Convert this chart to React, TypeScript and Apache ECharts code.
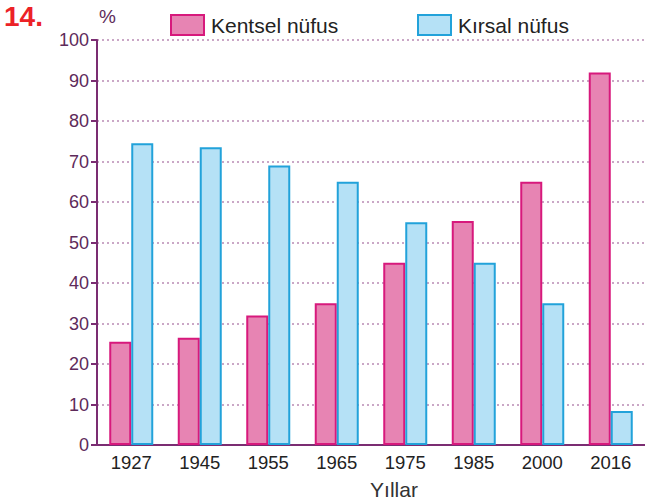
import React, { useEffect, useRef } from "react";
import * as echarts from "echarts";

const categories = ["1927", "1945", "1955", "1965", "1975", "1985", "2000", "2016"];
const kentsel = [25.5, 26.5, 32, 35, 45, 55.3, 65, 92];
const kirsal = [74.5, 73.5, 69, 65, 55, 45, 35, 8.4];
const yTicks = { min: 0, max: 100, interval: 10 };

const FONT = "Liberation Sans, Arial, sans-serif";
const PURPLE = "#7b2d72";

export default function App() {
  const ref = useRef<HTMLDivElement>(null);
  useEffect(() => {
    if (!ref.current) return;
    const chart = echarts.init(ref.current, null, { renderer: "svg" });
    const legendCommon = {
      top: 14,
      padding: 0,
      icon: "rect",
      itemWidth: 33,
      itemHeight: 20,
      itemGap: 8,
      textStyle: { fontSize: 21, color: "#222", fontFamily: FONT, padding: [0, 0, 0, 2] },
    };
    chart.setOption({
      animation: false,
      backgroundColor: "#ffffff",
      textStyle: { fontFamily: FONT },
      grid: { left: 97, top: 40, width: 560, height: 405, containLabel: false },
      legend: [
        { ...legendCommon, data: ["Kentsel nüfus"], left: 170 },
        { ...legendCommon, data: ["Kırsal nüfus"], left: 417 },
      ],
      xAxis: {
        type: "category",
        data: categories,
        axisLine: { lineStyle: { color: PURPLE, width: 2 } },
        axisTick: { show: false },
        axisLabel: { fontSize: 18.5, color: "#222", margin: 8, fontFamily: FONT },
      },
      yAxis: {
        type: "value",
        min: yTicks.min,
        max: yTicks.max,
        interval: yTicks.interval,
        axisLine: { show: true, lineStyle: { color: PURPLE, width: 2 } },
        axisTick: { show: true, length: 6, lineStyle: { color: PURPLE, width: 2 } },
        axisLabel: { fontSize: 18, color: "#5e2a5a", margin: 8, fontFamily: FONT },
        splitLine: { lineStyle: { color: "#b98ab4", type: [2, 3], width: 1.5 } },
      },
      series: [
        {
          name: "Kentsel nüfus",
          type: "bar",
          data: kentsel,
          barWidth: 22,
          barGap: "0%",
          itemStyle: { color: "#e784b3", borderColor: "#d7197c", borderWidth: 2 },
        },
        {
          name: "Kırsal nüfus",
          type: "bar",
          data: kirsal,
          barWidth: 22,
          barGap: "0%",
          itemStyle: { color: "#b5e1f6", borderColor: "#22a2da", borderWidth: 2 },
        },
      ],
      graphic: [
        {
          type: "text",
          left: 4,
          top: 2,
          style: { text: "14.", fontSize: 28, fontWeight: "bold", fill: "#ec2227", fontFamily: FONT },
        },
        {
          type: "text",
          left: 99,
          top: 7,
          style: { text: "%", fontSize: 19, fill: "#5e2a5a", fontFamily: FONT },
        },
        {
          type: "text",
          x: 394,
          y: 479,
          style: { text: "Yıllar", fontSize: 21, fill: "#333", fontFamily: FONT, align: "center" },
        },
      ],
    });
    return () => chart.dispose();
  }, []);
  return <div ref={ref} style={{ width: 645, height: 503, position: "absolute", left: 0, top: 0 }} />;
}
